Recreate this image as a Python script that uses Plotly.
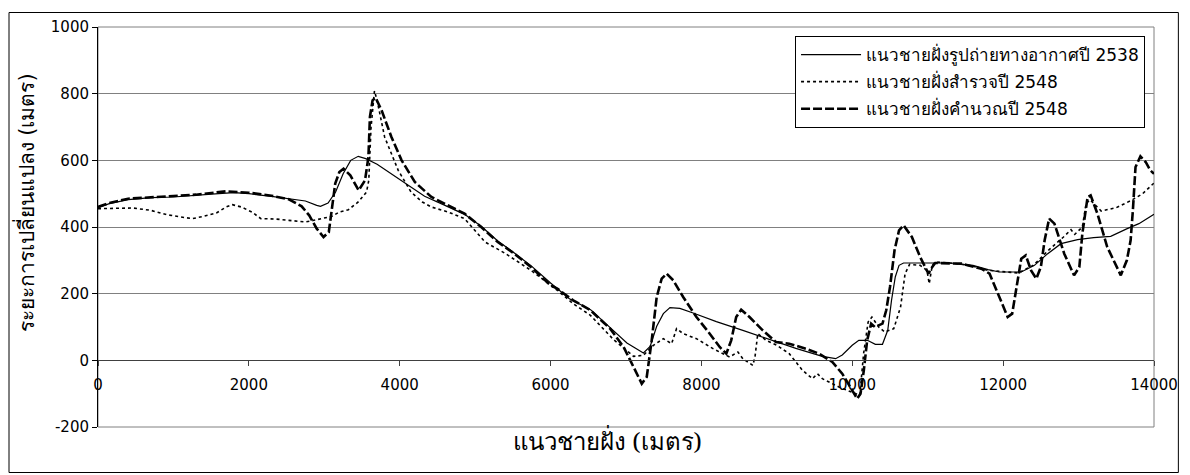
import plotly.graph_objects as go

# ---------------- data ----------------
x_1995 = [0, 150, 400, 700, 1000, 1300, 1600, 1800, 2000, 2300, 2550, 2750, 2900, 2950, 3050, 3150,
          3250, 3350, 3450, 3550, 3700, 3850, 4070, 4330, 4600, 4860, 5080, 5300, 5520, 5740, 6000,
          6250, 6530, 6790, 7012, 7231, 7320, 7407, 7495, 7583, 7714, 7890, 8198, 8549, 8900, 9252,
          9603, 9779, 9867, 9999, 10087, 10200, 10306, 10400, 10470, 10520, 10570, 10620, 10680,
          10900, 11300, 11600, 11800, 11950, 12240, 12415, 12591, 12767, 12987, 13200, 13426,
          13645, 13800, 14000]
y_1995 = [458, 470, 482, 488, 490, 494, 500, 503, 500, 492, 485, 478, 465, 462, 472, 505,
          560, 600, 612, 605, 588, 565, 530, 492, 465, 438, 402, 358, 322, 284, 232,
          185, 152, 98, 52, 22, 42, 102, 140, 158, 156, 142, 116, 90, 62, 36,
          12, 5, 16, 45, 60, 60, 48, 48, 90, 180, 250, 285, 292,
          292, 292, 285, 272, 265, 265, 285, 320, 350, 362, 368, 372,
          395, 410, 438]

x_survey = [0, 230, 460, 700, 910, 1100, 1250, 1400, 1570, 1700, 1780, 1900, 2040, 2160, 2350, 2530,
            2750, 2860, 3000, 3100, 3200, 3320, 3450, 3560, 3590, 3620, 3665, 3700, 3800, 3980, 4150,
            4300, 4420, 4640, 4860, 5000, 5130, 5390, 5740, 6090, 6300, 6528, 6836, 7100, 7231, 7363,
            7495, 7605, 7670, 7758, 7934, 8154, 8373, 8483, 8549, 8681, 8710, 8747, 8857, 9000, 9164,
            9340, 9472, 9538, 9603, 9823, 10043, 10100, 10150, 10210, 10260, 10350, 10430, 10550,
            10640, 10700, 10760, 10900, 10990, 11020, 11060, 11100, 11400, 11600, 11800, 12000,
            12200, 12400, 12600, 12800, 12900, 12950, 13050, 13100, 13150, 13300, 13500, 13700,
            13850, 14000]
y_survey = [455, 456, 457, 450, 437, 430, 425, 432, 442, 460, 467, 460, 445, 425, 424, 420,
            415, 420, 426, 432, 445, 452, 475, 505, 540, 700, 808, 780, 670, 570, 505,
            475, 460, 445, 425, 390, 355, 322, 270, 210, 170, 135, 62, 12, 15, 45,
            65, 50, 95, 80, 65, 35, 10, 25, 5, -15, 10, 80, 60, 45, 20,
            -30, -55, -40, -55, -80, -100, -105, 20, 115, 130, 100, 85, 95,
            160, 260, 288, 285, 270, 230, 285, 295, 290, 282, 270, 265,
            262, 285, 330, 370, 392, 378, 400, 470, 482, 448, 458, 480,
            500, 532]

x_model = [0, 150, 400, 700, 1000, 1300, 1500, 1700, 2000, 2300, 2530, 2700, 2800, 2900, 2990, 3060,
           3145, 3200, 3255, 3345, 3455, 3540, 3585, 3605, 3640, 3680, 3760, 3890, 4025, 4200, 4420,
           4640, 4860, 5080, 5300, 5520, 5740, 6000, 6089, 6300, 6530, 6790, 6968, 7100, 7209, 7275,
           7341, 7407, 7473, 7539, 7627, 7758, 7934, 8110, 8242, 8330, 8395, 8461, 8527, 8637, 8813,
           8988, 9164, 9384, 9560, 9735, 9867, 9999, 10065, 10109, 10153, 10197, 10250, 10300, 10400,
           10450, 10500, 10560, 10620, 10680, 10790, 10900, 11010, 11060, 11100, 11450, 11710, 11820,
           11930, 12060, 12120, 12175, 12240, 12300, 12370, 12440, 12500, 12550, 12610, 12680, 12810,
           12940, 13010, 13050, 13120, 13160, 13250, 13380, 13560, 13640, 13690, 13720, 13755, 13820,
           13890, 13950, 14000]
y_model = [460, 472, 485, 490, 493, 497, 502, 507, 503, 494, 483, 462, 435, 395, 370, 385,
           530, 565, 575, 555, 510, 540, 610, 730, 780, 788, 750, 670, 600, 535, 490,
           465, 440, 400, 355, 320, 280, 225, 215, 180, 150, 95, 40, -20, -70, -50,
           60, 190, 245, 260, 240, 190, 130, 80, 40, 20, 60, 130, 152, 130, 90,
           55, 50, 35, 20, -5, -40, -90, -115, -100, -30, 60, 110, 100, 110,
           150, 220, 330, 390, 405, 370, 310, 260, 280, 292, 290, 275, 260,
           200, 130, 140, 215, 305, 315, 270, 245, 280, 360, 425, 410, 320,
           255, 280, 380, 490, 495, 440, 340, 255, 300, 360, 450, 580, 612,
           595, 570, 560]

names = ["แนวชายฝั่งรูปถ่ายทางอากาศปี 2538",
         "แนวชายฝั่งสำรวจปี 2548",
         "แนวชายฝั่งคำนวณปี 2548"]

x_ticks = [0, 2000, 4000, 6000, 8000, 10000, 12000, 14000]
y_ticks = [-200, 0, 200, 400, 600, 800, 1000]

x_title = "แนวชายฝั่ง (เมตร)"
y_title = "ระยะการเปลี่ยนแปลง (เมตร)"

# ---------------- figure ----------------
FONT = "DejaVu Sans, Noto Sans, sans-serif"

fig = go.Figure()
fig.add_trace(go.Scatter(x=x_1995, y=y_1995, mode="lines", name=names[0], legendgroup="a",
                         line=dict(color="black", width=1.2)))
fig.add_trace(go.Scatter(x=x_survey, y=y_survey, mode="lines", name=names[1], legendgroup="b",
                         line=dict(color="black", width=1.6, dash="dot")))
fig.add_trace(go.Scatter(x=x_model, y=y_model, mode="lines", name=names[2], legendgroup="c",
                         line=dict(color="black", width=2.6, dash="9px,3px")))

L, R, T, B = 98, 1160, 27, 427
W, H = 1190, 475
pw, ph = R - L, B - T

def px(xp):
    return (xp - L) / pw

def py(yp):
    return (B - yp) / ph

fig.update_layout(
    width=W, height=H,
    margin=dict(l=L, r=W - R, t=T, b=H - B, pad=0),
    paper_bgcolor="white", plot_bgcolor="white",
    font=dict(family=FONT, size=15, color="black"),
    showlegend=True,
    legend=dict(x=px(799), y=py(36), xanchor="left", yanchor="top",
                bgcolor="white", bordercolor="black", borderwidth=1,
                font=dict(family=FONT, size=17, color="black"),
                tracegroupgap=2, itemwidth=60),
    xaxis=dict(range=[0, 14000], tickvals=x_ticks, ticktext=[str(v) for v in x_ticks],
               showgrid=False, zeroline=False, showline=True, linecolor="#404040", linewidth=1,
               ticks="outside", ticklen=5, tickcolor="#404040",
               anchor="free", position=1 / 6, ticklabelstandoff=6,
               tickfont=dict(family=FONT, size=15, color="black")),
    yaxis=dict(range=[-200, 1000], tickvals=y_ticks, ticktext=[str(v) for v in y_ticks],
               showgrid=True, gridcolor="#808080", gridwidth=1, zeroline=False,
               showline=True, linecolor="black", linewidth=1,
               ticks="outside", ticklen=5, tickcolor="black",
               tickfont=dict(family=FONT, size=15, color="black")),
    shapes=[
        dict(type="rect", xref="paper", yref="paper", x0=0, y0=0, x1=1, y1=1,
             line=dict(color="#808080", width=1), layer="below"),
        dict(type="rect", xref="paper", yref="paper", x0=px(8.5), y0=py(472.5), x1=px(1184.5), y1=py(12.5),
             line=dict(color="black", width=1), layer="above"),
    ],
    annotations=[
        dict(text=x_title, xref="paper", yref="paper", x=px(610), y=py(441),
             xanchor="center", yanchor="middle", showarrow=False,
             font=dict(family="Noto Serif, DejaVu Serif, serif", size=24, color="black")),
        dict(text=y_title, xref="paper", yref="paper", x=px(26), y=py(203),
             xanchor="center", yanchor="middle", showarrow=False, textangle=-90,
             font=dict(family=FONT, size=21, color="black")),
    ],
)

fig.write_html("out.html")
